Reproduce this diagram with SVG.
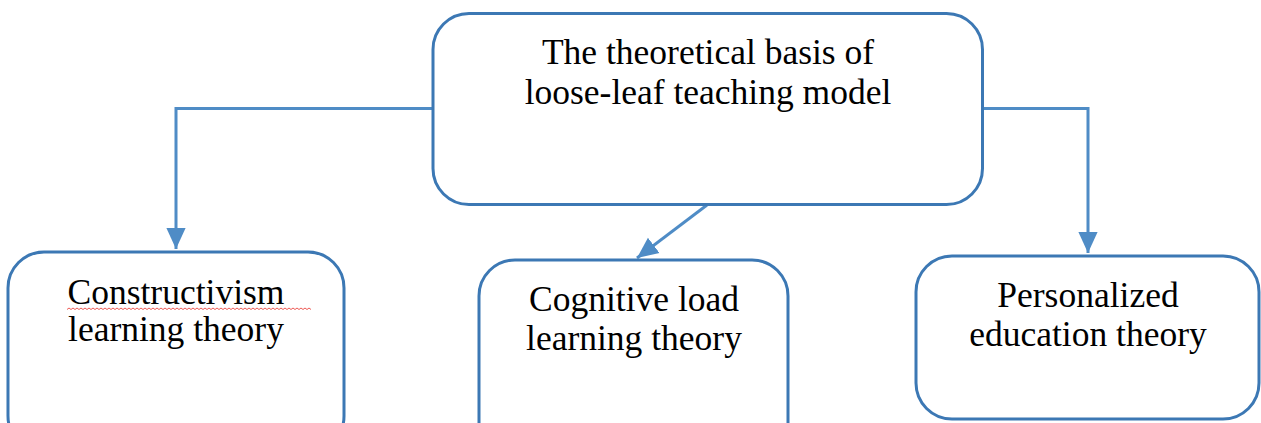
<svg xmlns="http://www.w3.org/2000/svg" width="1261" height="423" viewBox="0 0 1261 423">
<defs>
<style>
.box{fill:#fff;stroke:#3c78b4;stroke-width:3}
.lbl{font-family:"Liberation Serif","Times New Roman",serif;font-size:35.5px;fill:#000;text-anchor:middle}
.con{fill:none;stroke:#4f8cc6;stroke-width:3}
</style>
<marker id="arr" markerWidth="8" markerHeight="8" refX="7" refY="4" orient="auto" markerUnits="strokeWidth" viewBox="0 0 8 8">
<path d="M0,0.8 L7,4 L0,7.2 Z" fill="#4f8cc6"/>
</marker>
</defs>
<g id="connectors">
<path class="con" d="M433,108.5 H176 V249" marker-end="url(#arr)"/>
<path class="con" d="M983,108.5 H1088 V253" marker-end="url(#arr)"/>
<path class="con" d="M707,205 L637,258" marker-end="url(#arr)"/>
</g>
<g id="root">
<rect class="box" x="433" y="13.5" width="549.5" height="191" rx="36" ry="36"/>
<text class="lbl" x="708" y="64">The theoretical basis of</text>
<text class="lbl" x="708" y="104">loose-leaf teaching model</text>
</g>
<g id="constructivism">
<rect class="box" x="8" y="252" width="336" height="200" rx="36" ry="36"/>
<text class="lbl" x="176" y="304">Constructivism</text>
<text class="lbl" x="176" y="341">learning theory</text>
<path d="M67,309.5 l2,-1.5 l2,1.5 l2,-1.5 l2,1.5 l2,-1.5 l2,1.5 l2,-1.5 l2,1.5 l2,-1.5 l2,1.5 l2,-1.5 l2,1.5 l2,-1.5 l2,1.5 l2,-1.5 l2,1.5 l2,-1.5 l2,1.5 l2,-1.5 l2,1.5 l2,-1.5 l2,1.5 l2,-1.5 l2,1.5 l2,-1.5 l2,1.5 l2,-1.5 l2,1.5 l2,-1.5 l2,1.5 l2,-1.5 l2,1.5 l2,-1.5 l2,1.5 l2,-1.5 l2,1.5 l2,-1.5 l2,1.5 l2,-1.5 l2,1.5 l2,-1.5 l2,1.5 l2,-1.5 l2,1.5 l2,-1.5 l2,1.5 l2,-1.5 l2,1.5 l2,-1.5 l2,1.5 l2,-1.5 l2,1.5 l2,-1.5 l2,1.5 l2,-1.5 l2,1.5 l2,-1.5 l2,1.5 l2,-1.5 l2,1.5 l2,-1.5 l2,1.5 l2,-1.5 l2,1.5 l2,-1.5 l2,1.5 l2,-1.5 l2,1.5 l2,-1.5 l2,1.5 l2,-1.5 l2,1.5 l2,-1.5 l2,1.5 l2,-1.5 l2,1.5 l2,-1.5 l2,1.5 l2,-1.5 l2,1.5 l2,-1.5 l2,1.5 l2,-1.5 l2,1.5 l2,-1.5 l2,1.5 l2,-1.5 l2,1.5 l2,-1.5 l2,1.5 l2,-1.5 l2,1.5 l2,-1.5 l2,1.5 l2,-1.5 l2,1.5 l2,-1.5 l2,1.5 l2,-1.5 l2,1.5 l2,-1.5 l2,1.5 l2,-1.5 l2,1.5 l2,-1.5 l2,1.5 l2,-1.5 l2,1.5 l2,-1.5 l2,1.5 l2,-1.5 l2,1.5 l2,-1.5 l2,1.5 l2,-1.5 l2,1.5 l2,-1.5 l2,1.5 l2,-1.5 l2,1.5 l2,-1.5 l2,1.5" fill="none" stroke="#e8302a" stroke-width="0.8"/>
</g>
<g id="cognitive">
<rect class="box" x="479" y="260" width="309" height="200" rx="36" ry="36"/>
<text class="lbl" x="634" y="311">Cognitive load</text>
<text class="lbl" x="634" y="350">learning theory</text>
</g>
<g id="personalized">
<rect class="box" x="916" y="256" width="343" height="163" rx="36" ry="36"/>
<text class="lbl" x="1088" y="307">Personalized</text>
<text class="lbl" x="1088" y="346">education theory</text>
</g>
</svg>
